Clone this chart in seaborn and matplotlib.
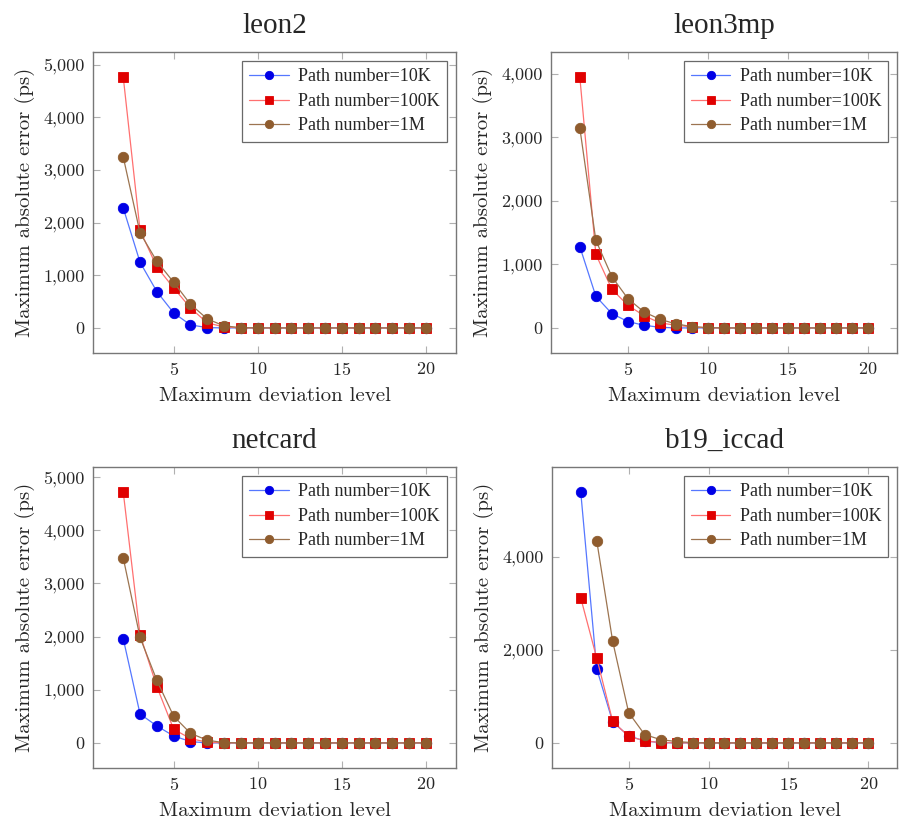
import numpy as np
import pandas as pd
import matplotlib
matplotlib.use("Agg")
import matplotlib.pyplot as plt
from matplotlib.ticker import MultipleLocator, FuncFormatter
import seaborn as sns

sns.set_style("ticks")
plt.rcParams["axes.formatter.use_mathtext"] = True
plt.rcParams["mathtext.fontset"] = "cm"

levels = list(range(2, 21))

titles = ["leon2", "leon3mp", "netcard", "b19_iccad"]
series_names = ["Path number=10K", "Path number=100K", "Path number=1M"]

leon2_10k = [2278, 1247, 690, 285, 57, 6] + [0] * 13
leon2_100k = [4766, 1854, 1158, 760, 380, 95, 19] + [0] * 12
leon2_1m = [3247, 1804, 1266, 867, 449, 171, 38, 6] + [0] * 11

leon3mp_10k = [1279, 498, 225, 100, 42, 10] + [0] * 13
leon3mp_100k = [3948, 1159, 608, 356, 194, 79, 42, 16] + [0] * 11
leon3mp_1m = [3145, 1379, 807, 461, 252, 136, 63, 21, 5] + [0] * 10

netcard_10k = [1959, 544, 319, 131, 25] + [0] * 14
netcard_100k = [4718, 2034, 1058, 257, 81, 13] + [0] * 13
netcard_1m = [3479, 1984, 1176, 501, 181, 50, 6] + [0] * 12

b19_10k = [5386, 1593, 450, 150, 43, 7] + [0] * 13
b19_100k = [3114, 1821, 464, 143, 43, 7] + [0] * 13
b19_1m = [np.nan, 4343, 2179, 650, 179, 71, 29, 7] + [0] * 11

panels = [
    (leon2_10k, leon2_100k, leon2_1m),
    (leon3mp_10k, leon3mp_100k, leon3mp_1m),
    (netcard_10k, netcard_100k, netcard_1m),
    (b19_10k, b19_100k, b19_1m),
]
y_steps = [1000, 1000, 1000, 2000]

line_colors = ["#5577ff", "#ff7070", "#9c7450"]
marker_colors = ["#0000e6", "#e00000", "#8f5c2e"]
markers = ["o", "s", "o"]
msizes = [7.5, 7, 7.5]

fig = plt.figure(figsize=(9.02, 8.24), dpi=100)
W, H = 902, 824
boxes = [
    (93, 52, 456, 353),
    (551, 52, 897, 353),
    (93, 467, 456, 768),
    (552, 467, 897, 768),
]

serif_times = "Liberation Serif"
cm_font = "cmr10"

for i, (title, data, step, box) in enumerate(zip(titles, panels, y_steps, boxes)):
    l, t, r, b = box
    ax = fig.add_axes([l / W, 1 - b / H, (r - l) / W, (b - t) / H])
    for j, vals in enumerate(data):
        df = pd.DataFrame({"level": levels, "err": vals}).dropna()
        sns.lineplot(data=df, x="level", y="err", ax=ax, color=line_colors[j],
                     marker=markers[j], markersize=msizes[j],
                     markerfacecolor=marker_colors[j],
                     markeredgecolor=marker_colors[j], markeredgewidth=0.6,
                     linewidth=0.9, label=series_names[j])
    ax.margins(x=0.1, y=0.1)
    ax.xaxis.set_major_locator(MultipleLocator(5))
    ax.yaxis.set_major_locator(MultipleLocator(step))
    ax.yaxis.set_major_formatter(FuncFormatter(lambda v, p: f"{v:,.0f}"))
    ax.tick_params(direction="in", top=True, right=True, length=5,
                   color="#b0b0b0", width=0.8, labelsize=13, pad=6)
    for lab in ax.get_xticklabels() + ax.get_yticklabels():
        lab.set_fontfamily(cm_font)
    for sp in ax.spines.values():
        sp.set_color("#777777")
        sp.set_linewidth(1.0)
    ax.set_xlabel("Maximum deviation level", fontfamily=cm_font, fontsize=15,
                  labelpad=6)
    ax.set_ylabel("Maximum absolute error (ps)", fontfamily=cm_font, fontsize=15,
                  labelpad=6)
    ax.set_title(title, fontfamily=serif_times, fontsize=21, pad=14)
    leg = ax.legend(loc="upper right", bbox_to_anchor=(0.975, 0.97),
                    prop={"family": serif_times, "size": 13},
                    frameon=True, fancybox=False, borderpad=0.4,
                    labelspacing=0.42, handlelength=2.2, handletextpad=0.5,
                    borderaxespad=0)
    leg.get_frame().set_edgecolor("#444444")
    leg.get_frame().set_linewidth(0.9)
    for h in leg.legend_handles:
        h.set_markersize(6)

fig.savefig("out.png", dpi=100)
